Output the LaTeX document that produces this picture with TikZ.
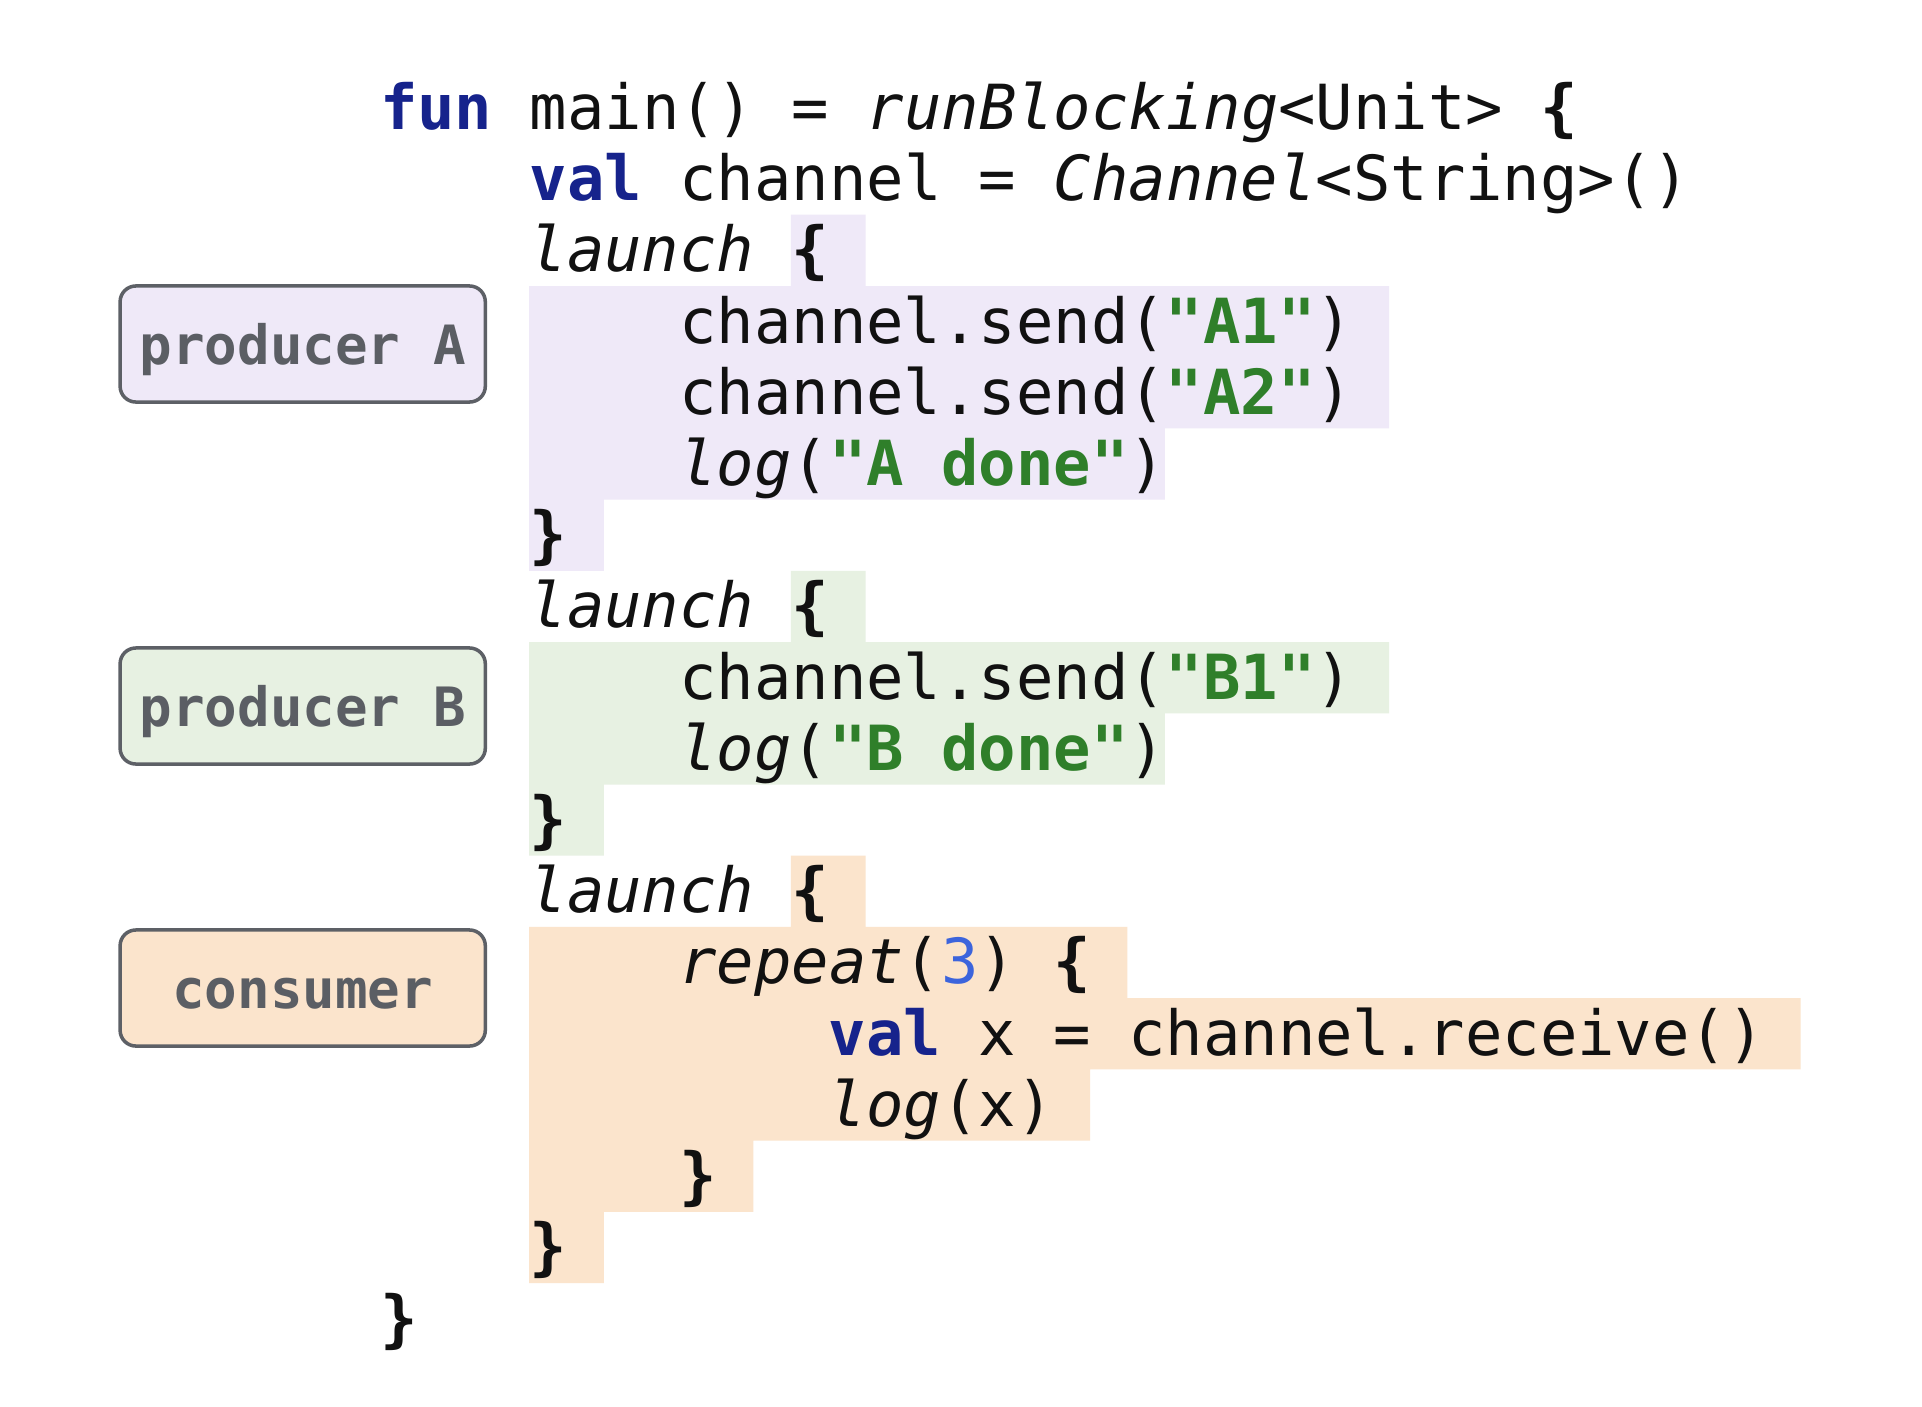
\documentclass[tikz,border=0pt]{standalone}
\usepackage{fontspec}
\usepackage{tikz}
\usetikzlibrary{positioning}
\newfontfamily\codefont{DejaVu Sans Mono}
\definecolor{kwblue}{HTML}{16238C}
\definecolor{strgreen}{HTML}{2F7F2A}
\definecolor{numblue}{HTML}{3C64DC}
\definecolor{codeblack}{HTML}{111111}
\definecolor{tagtext}{HTML}{5B5E64}
\definecolor{tagline}{HTML}{5D6066}
\definecolor{hlA}{HTML}{EFE9F8}
\definecolor{hlB}{HTML}{E7F1E2}
\definecolor{hlC}{HTML}{FBE4CC}
\newcommand\kwd[1]{{\bfseries\color{kwblue}#1}}
\newcommand\lit[1]{{\bfseries\color{strgreen}#1}}
\newcommand\itl[1]{{\itshape #1}}
\newcommand\numlit[1]{{\color{numblue}#1}}
\newcommand\brc[1]{{\bfseries #1}}
\tikzset{
  code/.style={anchor=base west, inner sep=0pt, text=codeblack,
    font=\codefont\fontsize{17.68pt}{21pt}\selectfont},
  tag/.style={draw=tagline, line width=1pt, rounded corners=4.5pt,
    minimum width=3.65cm, minimum height=1.16cm, inner sep=0pt, text=tagtext,
    text height=0.53cm, text depth=0.13cm,
    font=\codefont\bfseries\fontsize{15.4pt}{18pt}\selectfont}
}

\begin{document}
\begin{tikzpicture}[x=0.01cm, y=-0.01cm]
\path[fill=white, use as bounding box] (0,0) rectangle (1922,1406);
\fill[hlA] (790.8,214.7) -- (865.6,214.7) -- (865.6,286) -- (1389.2,286)
  -- (1389.2,428.4) -- (1164.8,428.4) -- (1164.8,499.6) -- (603.8,499.6)
  -- (603.8,570.8) -- (529,570.8) -- (529,286) -- (790.8,286) -- cycle;
\fill[hlB] (790.8,570.8) -- (865.6,570.8) -- (865.6,642.1) -- (1389.2,642.1)
  -- (1389.2,713.3) -- (1164.8,713.3) -- (1164.8,784.5) -- (603.8,784.5)
  -- (603.8,855.7) -- (529,855.7) -- (529,642.1) -- (790.8,642.1) -- cycle;
\fill[hlC] (790.8,855.7) -- (865.6,855.7) -- (865.6,926.9) -- (1127.4,926.9)
  -- (1127.4,998.2) -- (1800.6,998.2) -- (1800.6,1069.4) -- (1090,1069.4)
  -- (1090,1140.6) -- (753.4,1140.6) -- (753.4,1211.8) -- (603.8,1211.8)
  -- (603.8,1283) -- (529,1283) -- (529,926.9) -- (790.8,926.9) -- cycle;

\node [code] (l0) at (379.4,129.3) {\kwd{fun} main() = \itl{runBlocking}<Unit> \brc{\{}};
\node [code] (l1) at (529,200.5) {\kwd{val} channel = \itl{Channel}<String>()};
\node [code] (l2) at (529,271.7) {\itl{launch} \brc{\{}};
\node [code] (l3) at (678.6,343) {channel.send(\lit{"A1"})};
\node [code] (l4) at (678.6,414.2) {channel.send(\lit{"A2"})};
\node [code] (l5) at (678.6,485.4) {\itl{log}(\lit{"A done"})};
\node [code] (l6) at (529,556.6) {\brc{\}}};
\node [code] (l7) at (529,627.8) {\itl{launch} \brc{\{}};
\node [code] (l8) at (678.6,699.1) {channel.send(\lit{"B1"})};
\node [code] (l9) at (678.6,770.3) {\itl{log}(\lit{"B done"})};
\node [code] (l10) at (529,841.5) {\brc{\}}};
\node [code] (l11) at (529,912.7) {\itl{launch} \brc{\{}};
\node [code] (l12) at (678.6,983.9) {\itl{repeat}(\numlit{3}) \brc{\{}};
\node [code] (l13) at (828.2,1055.2) {\kwd{val} x = channel.receive()};
\node [code] (l14) at (828.2,1126.4) {\itl{log}(x)};
\node [code] (l15) at (678.6,1197.6) {\brc{\}}};
\node [code] (l16) at (529,1268.8) {\brc{\}}};
\node [code] (l17) at (379.4,1340) {\brc{\}}};

\node [tag, fill=hlA] (prodA) at (302.7,344) {producer A};
\node [tag, fill=hlB] (prodB) at (302.7,706) {producer B};
\node [tag, fill=hlC] (cons) at (302.7,988) {consumer};
\end{tikzpicture}
\end{document}
